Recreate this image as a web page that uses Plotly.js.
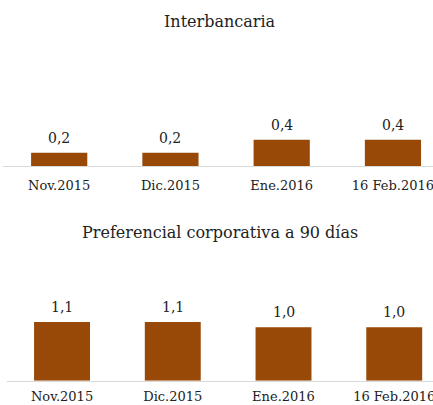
<!DOCTYPE html>
<html>
<head>
<meta charset="utf-8">
<script src="https://cdn.plot.ly/plotly-3.0.1.min.js"></script>
<style>
  html, body { margin: 0; padding: 0; background: #fff; }
  #chart { width: 433px; height: 405px; }
</style>
</head>
<body>
<div id="chart"></div>
<script>
// categories and values for both panels
const periods = ['Nov.2015', 'Dic.2015', 'Ene.2016', '16 Feb.2016'];
const interbancaria = [0.2, 0.2, 0.4, 0.4];
const preferencial = [1.1, 1.1, 1.0, 1.0];
const panelTitles = ['Interbancaria', 'Preferencial corporativa a 90 días'];

const barColor = '#984807';
const textColor = '#222';
const fontFamily = '"DejaVu Serif", "Liberation Serif", serif';

const barTrace = (vals, xa, ya) => ({
  type: 'bar',
  x: periods,
  y: vals,
  xaxis: xa,
  yaxis: ya,
  marker: { color: barColor },
  hoverinfo: 'skip'
});

// value labels above bars, a bit higher than plotly's default 'outside' text
const valueLabels = (vals, xa, ya) => vals.map((v, i) => ({
  text: v.toFixed(1).replace('.', ','),
  x: periods[i],
  y: v,
  xref: xa,
  yref: ya,
  showarrow: false,
  xanchor: 'center',
  yanchor: 'bottom',
  yshift: 5,
  font: { family: fontFamily, size: 14, color: textColor }
}));

const xAxisBase = {
  type: 'category',
  showline: true,
  linecolor: '#d9d9d9',
  linewidth: 1,
  showgrid: false,
  zeroline: false,
  ticks: '',
  ticklabelstandoff: 7,
  tickfont: { family: fontFamily, size: 13, color: textColor },
  fixedrange: true
};

const yAxisBase = {
  showgrid: false,
  zeroline: false,
  showline: false,
  showticklabels: false,
  ticks: '',
  fixedrange: true
};

const titleAnn = (text, y) => ({
  text: text, xref: 'paper', yref: 'paper', x: 0.508, y: y, showarrow: false,
  xanchor: 'center', yanchor: 'middle', font: { family: fontFamily, size: 16, color: textColor }
});

const layout = {
  width: 433,
  height: 405,
  margin: { t: 0, r: 0, b: 0, l: 0 },
  paper_bgcolor: '#fff',
  plot_bgcolor: '#fff',
  showlegend: false,
  bargap: 0.495,
  font: { family: fontFamily, color: textColor },
  xaxis: Object.assign({}, xAxisBase, { domain: [3 / 433, 1], range: [-0.505, 3.36], anchor: 'y' }),
  yaxis: Object.assign({}, yAxisBase, { domain: [0.59, 0.85], range: [0, 1.595], anchor: 'x' }),
  // bottom labels sit close to the lower edge, as in the source
  xaxis2: Object.assign({}, xAxisBase, { domain: [7 / 433, 1], range: [-0.497, 3.35], anchor: 'y2', ticklabelstandoff: 4 }),
  yaxis2: Object.assign({}, yAxisBase, { domain: [0.06, 0.40], range: [0, 2.58], anchor: 'x2' }),
  annotations: [
    titleAnn(panelTitles[0], 0.946),
    titleAnn(panelTitles[1], 0.427)
  ].concat(valueLabels(interbancaria, 'x', 'y'), valueLabels(preferencial, 'x2', 'y2'))
};

Plotly.newPlot('chart', [barTrace(interbancaria, 'x', 'y'), barTrace(preferencial, 'x2', 'y2')], layout,
  { displayModeBar: false, staticPlot: true });
</script>
</body>
</html>
